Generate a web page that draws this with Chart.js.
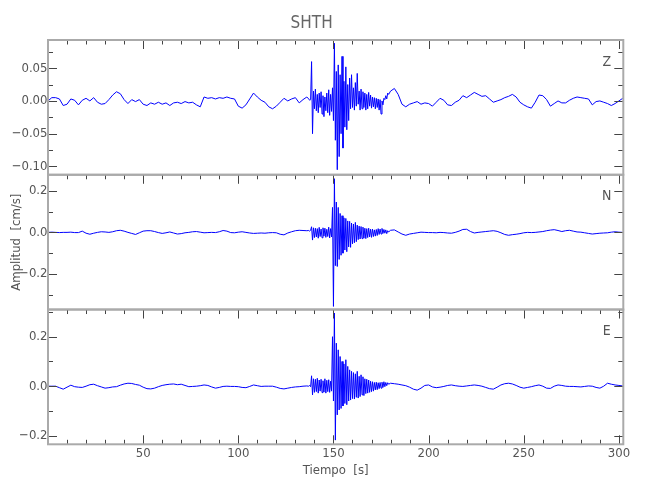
<!DOCTYPE html>
<html>
<head>
<meta charset="utf-8">
<script src="https://cdn.jsdelivr.net/npm/chart.js@4.4.1/dist/chart.umd.min.js"></script>
<style>
  html, body { margin: 0; padding: 0; background: #fff; }
</style>
</head>
<body>
<canvas id="seis" width="650" height="500"></canvas>
<script>
const UNIT = 0.001;

// sample times of each segment [s]
const preStart = 0, preStep = 2;      // quiet part before the arrival
const burstStart = 137, burstStep = 0.5; // strong motion
const postStart = 180, postStep = 2;  // coda / quiet after

const panelNames = ['Z', 'N', 'E'];
const xLabelTicks = [50, 100, 150, 200, 250, 300];
const zLabelTicks = [-0.10, -0.05, 0.00, 0.05];
const nLabelTicks = [-0.2, 0.0, 0.2];
const eLabelTicks = [-0.2, 0.0, 0.2];

// Z component
const zPre = [
  0, 5, 5, 3, -7, -5, 3, 1, -6, 1,
  4, 0, 5, -2, -5, -4, 2, 9, 14, 11,
  2, -4, 2, -1, 2, -5, -7, -3, -5, -2,
  -5, -3, -7, -3, -2, -4, -1, -3, -2, -6,
  -9, 6, 4, 5, 3, 5, 4, 6, 4, 3,
  -8, -11, -6, 3, 12, 6, 1, -2, -9, -12,
  -8, -2, 4, 0, 3, 5, -3, 2, 6
];
const zBurst = [
  3, 1, 2, 60, -50, 15, -12, 18, -15, 10,
  -18, 12, -10, 14, -20, 8, -24, 6, -15, 12,
  -18, 17, -22, 10, -16, 20, -30, 88, -60, 45,
  -105, 55, -85, 40, -50, 68, -72, 30, -40, 52,
  -44, 25, -30, 35, -12, 40, -10, 20, -14, 28,
  -8, 42, -5, 15, -14, 18, -12, 14, -10, 12,
  -14, 10, -12, 13, -8, 9, -11, 6, -9, 5,
  -12, 4, -10, 3, -14, 2, -20, 0, -6, 4,
  2, 8, 3, 12, 10
];
const zPost = [
  15, 19, 10, -5, -9, -5, -3, -1, -5, -3,
  -4, -8, -2, 4, 1, -6, -7, -2, 1, 8,
  5, 9, 13, 10, 7, 8, 3, -2, 0, 2,
  5, 7, 10, 6, -2, -6, -9, -11, -2, 9,
  8, 2, -8, -4, 0, -3, -3, 1, 4, 6,
  5, 4, 3, -6, -1, 0, -2, -4, -7, -4,
  0, 4
];

// N component
const nPre = [
  0, 1, 0, -1, 0, 0, 1, -1, -1, 6,
  -4, -9, -4, 0, 3, 2, 0, 3, 8, 10,
  6, 0, -5, -10, -2, 6, 8, 8, 4, -1,
  -5, -2, 2, -3, -8, -6, -2, 0, 3, 4,
  1, -2, -1, 0, -1, 3, 9, 6, -1, -2,
  1, 3, 0, -3, -5, -4, -3, -4, -2, -1,
  -2, -9, -12, -3, 3, 8, 10, 9, 8
];
const nBurst = [
  9, 6, 10, 27, -37, 22, -25, 20, -22, 18,
  -28, 24, -20, 16, -26, 22, -18, 20, -24, 15,
  -20, 25, -27, 18, -22, 120, -356, 258, -160, 146,
  -164, 120, -130, 91, -110, 80, -100, 70, -85, 67,
  -93, 55, -70, 53, -72, 45, -55, 40, -50, 48,
  -45, 35, -35, 30, -32, 28, -30, 25, -28, 20,
  -30, 18, -25, 20, -22, 15, -24, 16, -20, 12,
  -18, 14, -15, 18, -10, 16, -8, 19, -5, 14,
  -4, 12, -6, 8, 2
];
const nPost = [
  10, 12, 2, -8, -14, -8, -5, -2, 1, 0,
  -1, -1, -2, 0, -1, -3, -4, 0, 6, 14,
  15, 4, -3, 0, 2, 4, 6, 8, 5, -2,
  -10, -14, -11, -9, -6, -2, 0, -1, 0, 2,
  4, 8, 11, 13, 9, 4, 8, 10, 6, 2,
  1, -2, -5, -8, -6, -4, -3, -2, 1, 3,
  1, 0
];

// E component
const ePre = [
  0, 0, 0, -6, -12, -4, 4, -2, -4, -5,
  0, 6, 8, 2, -3, -8, -6, -3, -2, 4,
  9, 12, 11, 7, 4, -4, -10, -11, -8, -2,
  3, 6, 8, 9, 6, 8, 3, -2, -1, 0,
  2, 5, 3, -3, -8, -5, -1, 0, -1, -1,
  -2, -5, -6, -1, 5, 2, -1, 0, 0, 0,
  -4, -9, -11, -8, -5, -3, -2, 0, 1
];
const eBurst = [
  0, 3, -2, 42, -35, 30, -25, 28, -22, 32,
  -28, 25, -20, 28, -26, 22, -24, 30, -28, 24,
  -22, 26, -25, 20, -20, 200, -60, 296, -218, 174,
  -116, 147, -96, 120, -90, 100, -80, 90, -70, 107,
  -75, 80, -60, 66, -56, 60, -50, 55, -52, 50,
  -45, 60, -48, 40, -42, 46, -35, 38, -38, 30,
  -30, 28, -28, 25, -25, 20, -22, 18, -20, 15,
  -15, 16, -14, 14, -10, 15, -8, 16, -5, 18,
  -2, 15, 2, 14, 8
];
const ePost = [
  12, 10, 8, 5, 2, -4, -12, -16, -8, 3,
  5, -3, -6, -4, -1, 3, 5, 2, 0, -1,
  1, 3, 5, 3, 0, -5, -10, -12, -4, 5,
  10, 12, 9, 3, -4, -8, -5, -2, 2, 5,
  0, -8, -9, 0, 5, 3, 0, -1, -1, -2,
  -3, -1, 1, 0, -5, -8, 0, 12, 8, 5,
  3, 1
];

const FONT = "'Liberation Sans Narrow', 'DejaVu Sans Condensed', sans-serif";
const TEXT = '#555';

// join the three segments into {x, y} points
const trace = (pre, burst, post) => {
  const pts = [];
  pre.forEach((v, i) => pts.push({ x: preStart + i * preStep, y: v * UNIT }));
  burst.forEach((v, i) => pts.push({ x: burstStart + i * burstStep, y: v * UNIT }));
  post.forEach((v, i) => pts.push({ x: postStart + i * postStep, y: v * UNIT }));
  return pts;
};

const fmt = (v, d) => (v < -1e-9 ? '\u2212' : '') + Math.abs(v).toFixed(d);
const hasTick = (arr, v) => arr.some(t => Math.abs(t - v) < 1e-6);

const yAxis = (min, max, step, labels, dec, extra) => Object.assign({
  type: 'linear',
  position: 'left',
  stack: 'traces',
  stackWeight: 1,
  min: min,
  max: max,
  grid: { display: false, drawTicks: false },
  border: { display: false },
  ticks: {
    stepSize: step,
    includeBounds: false,
    autoSkip: false,
    padding: 0.5,
    color: TEXT,
    font: { size: 13 },
    callback: v => hasTick(labels, v) ? fmt(v, dec) : ''
  },
  afterFit: s => { s.width = 48; }
}, extra || {});

// frame boxes, inward tick marks and component names
const framePlugin = {
  id: 'frame',
  afterDraw(chart) {
    const { ctx, chartArea } = chart;
    const { left, right } = chartArea;
    const xs = chart.scales.x;
    const line = (x1, y1, x2, y2) => {
      ctx.beginPath();
      ctx.moveTo(x1, y1);
      ctx.lineTo(x2, y2);
      ctx.stroke();
    };
    ctx.save();
    ['yZ', 'yN', 'yE'].forEach((id, i) => {
      const ys = chart.scales[id];
      ctx.strokeStyle = '#444';
      ctx.lineWidth = 1;
      ys.ticks.forEach(t => {
        const y = Math.round(ys.getPixelForValue(t.value)) + 0.5;
        if (y < ys.top + 2 || y > ys.bottom - 2) return;
        const len = t.label ? 9 : 5;
        line(left, y, left + len, y);
        line(right, y, right - len, y);
      });
      xs.ticks.forEach(t => {
        const x = Math.round(xs.getPixelForValue(t.value)) + 0.5;
        if (x < left + 2 || x > right - 1) return;
        const len = t.label ? 9 : 4.5;
        line(x, ys.top, x, ys.top + len);
        if (id === 'yE') line(x, ys.bottom, x, ys.bottom - len);
      });
      ctx.strokeStyle = '#aaa';
      ctx.lineWidth = 2;
      ctx.strokeRect(left, ys.top, right - left, ys.bottom - ys.top);

      ctx.fillStyle = TEXT;
      ctx.font = '14px ' + FONT;
      ctx.textAlign = 'center';
      ctx.textBaseline = 'middle';
      ctx.fillText(panelNames[i], right - 16.6, ys.top + 22);
    });
    ctx.restore();
  }
};

Chart.defaults.font.family = FONT;
Chart.defaults.color = TEXT;

const seisDataset = (data, axis) => ({
  data: data,
  yAxisID: axis,
  borderColor: '#0000ff',
  borderWidth: 1,
  pointRadius: 0,
  fill: false,
  tension: 0
});

new Chart(document.getElementById('seis').getContext('2d'), {
  type: 'line',
  data: {
    datasets: [
      seisDataset(trace(zPre, zBurst, zPost), 'yZ'),
      seisDataset(trace(nPre, nBurst, nPost), 'yN'),
      seisDataset(trace(ePre, eBurst, ePost), 'yE')
    ]
  },
  options: {
    responsive: false,
    animation: false,
    events: [],
    layout: { padding: { left: 0, right: 26.7, top: 0, bottom: 0 } },
    plugins: {
      legend: { display: false },
      tooltip: { enabled: false },
      title: {
        display: true,
        text: 'SHTH',
        color: '#666',
        font: { size: 17, weight: 'normal' },
        padding: { top: 13, bottom: 6.6 }
      }
    },
    scales: {
      x: {
        type: 'linear',
        position: 'bottom',
        min: 0,
        max: 302.3,
        grid: { display: false, drawTicks: false },
        border: { display: false },
        ticks: {
          stepSize: 10,
          includeBounds: false,
          autoSkip: false,
          maxRotation: 0,
          padding: 2,
          color: TEXT,
          font: { size: 13 },
          callback: v => xLabelTicks.includes(v) ? String(v) : ''
        },
        title: {
          display: true,
          text: 'Tiempo  [s]',
          color: TEXT,
          font: { size: 13 },
          padding: { top: 0, bottom: 21.5 }
        },
        afterFit: s => { s.height = 55.7; }
      },
      yE: yAxis(-0.235, 0.31, 0.1, eLabelTicks, 1),
      yN: yAxis(-0.371, 0.277, 0.1, nLabelTicks, 1, {
        title: {
          display: true,
          text: 'Amplitud  [cm/s]',
          color: TEXT,
          font: { size: 13 },
          padding: { top: 9, bottom: 0 }
        }
      }),
      yZ: yAxis(-0.1127, 0.093, 0.025, zLabelTicks, 2)
    }
  },
  plugins: [framePlugin]
});
</script>
</body>
</html>
